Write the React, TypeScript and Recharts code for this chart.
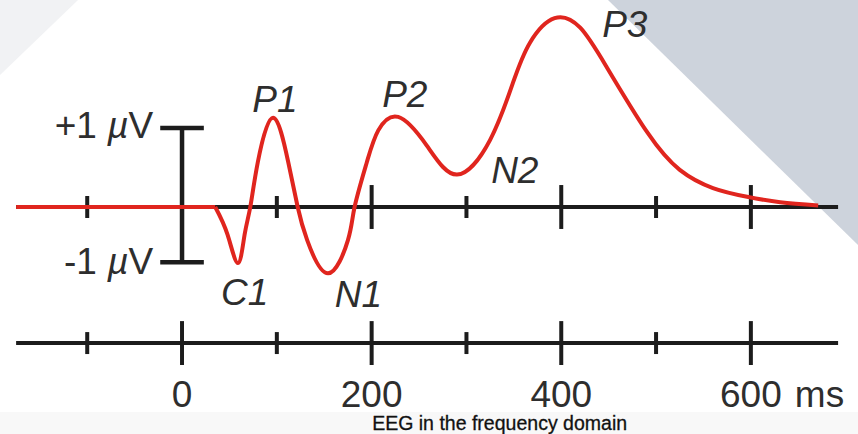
import React from 'react';
import { ComposedChart, Line, XAxis, YAxis, ReferenceLine, ReferenceDot } from 'recharts';

// ERP waveform: time (ms) vs amplitude (µV, positive up)
const baselineTimes = [-175, 35];
const baselineVolts = [0, 0];
const times = [35, 48, 59, 66, 72, 80, 96, 112, 122, 132, 154, 175, 182, 195, 207, 228, 258, 290, 325, 349, 367, 393, 420, 448, 491, 525, 560, 596, 631, 671];
const microvolts = [0, -0.35, -0.71, -0.35, 0, 0.57, 1.13, 0.57, 0, -0.42, -0.84, -0.42, 0, 0.57, 0.97, 1.14, 0.78, 0.41, 0.85, 1.57, 2.08, 2.39, 2.27, 1.77, 0.94, 0.47, 0.24, 0.13, 0.06, 0.02];

// component labels and their anchor points (ms, µV)
const componentNames = ['C1', 'P1', 'N1', 'P2', 'N2', 'P3'];
const componentLabelTimes = [66, 98, 186, 235, 351, 467];
const componentLabelVolts = [-1.24, 1.2, -1.27, 1.27, 0.3, 2.15];

const minorTicks = [-100, 100, 300, 500];
const majorTicksTop = [200, 400, 600];
const majorTicksBottom = [0, 200, 400, 600];
const tickLabels = ['0', '200', '400', '600'];
const timeUnit = 'ms';

const scaleBarTop = 1;
const scaleBarBottom = -0.7;
const scaleValues = ['+1', '-1'];
const scaleUnitPrefix = 'µ';
const scaleUnit = 'V';

const axisStart = -175;
const axisEnd = 692;
const bottomAxisLevel = -1.722;
const caption = 'EEG in the frequency domain';
const captionTime = 335;
const captionLevel = -2.823;

const baselineData = baselineTimes.map((t, i) => ({ t, v: baselineVolts[i] }));
const waveData = times.map((t, i) => ({ t, v: microvolts[i] }));

const W = 858;
const H = 434;
const FONT = '"Liberation Sans", Arial, Helvetica, sans-serif';
const INK = '#1c1c1c';
const TEXT = '#2e2e2e';
const RED = '#e0251e';
const AXIS_W = 4;
const MINOR = 0.139;
const MAJOR = 0.278;
const CAP = 23;

export default function App() {
  const seg = (x1: number, y1: number, x2: number, y2: number, key: string, w = AXIS_W) => (
    <ReferenceLine
      key={key}
      segment={[{ x: x1, y: y1 }, { x: x2, y: y2 }]}
      stroke={INK}
      strokeWidth={w}
      ifOverflow="visible"
    />
  );

  const textDot = (x: number, y: number, key: string, render: (cx: number, cy: number) => React.ReactElement) => (
    <ReferenceDot
      key={key}
      x={x}
      y={y}
      r={0}
      ifOverflow="visible"
      shape={(p: any) => render(p.cx, p.cy)}
    />
  );

  const scaleLabel = (value: string) => (cx: number, cy: number) => (
    <text x={cx - 7} y={cy} textAnchor="end" fontFamily={FONT} fontSize={37} fill={TEXT}>
      {value + ' '}
      <tspan fontStyle="italic">{scaleUnitPrefix}</tspan>
      {scaleUnit}
    </text>
  );

  return (
    <div style={{ position: 'absolute', left: 0, top: 0, width: W, height: H, background: '#ffffff' }}>
      <svg width={W} height={H} style={{ position: 'absolute', left: 0, top: 0 }}>
        <polygon points="0,0 78,0 0,75" fill="#f1f2f4" />
        <polygon points="608,0 858,0 858,245" fill="#cdd3dc" />
        <rect x={0} y={412} width={W} height={22} fill="#f8f8f8" />
      </svg>
      <div style={{ position: 'absolute', left: 0, top: 0 }}>
        <ComposedChart width={W} height={H} margin={{ top: 0, right: 0, bottom: 0, left: 0 }}>
          <XAxis dataKey="t" type="number" domain={[-192, 713]} allowDataOverflow hide />
          <YAxis type="number" domain={[-2.873, 2.62]} allowDataOverflow hide />

          {/* zero axis */}
          {seg(axisStart, 0, axisEnd, 0, 'zero-axis')}
          {minorTicks.map((t) => seg(t, -MINOR, t, MINOR, `tm-${t}`))}
          {majorTicksTop.map((t) => seg(t, -MAJOR, t, MAJOR, `tM-${t}`))}

          {/* bottom time axis */}
          {seg(axisStart, bottomAxisLevel, axisEnd, bottomAxisLevel, 'bottom-axis')}
          {minorTicks.map((t) => seg(t, bottomAxisLevel - MINOR, t, bottomAxisLevel + MINOR, `bm-${t}`))}
          {majorTicksBottom.map((t) => seg(t, bottomAxisLevel - MAJOR, t, bottomAxisLevel + MAJOR, `bM-${t}`))}

          {/* scale bar */}
          {seg(0, scaleBarBottom, 0, scaleBarTop, 'bar-v', 4.5)}
          {seg(-CAP, scaleBarTop, CAP, scaleBarTop, 'bar-top', 4.5)}
          {seg(-CAP, scaleBarBottom, CAP, scaleBarBottom, 'bar-bottom', 4.5)}

          <Line
            data={baselineData}
            dataKey="v"
            type="linear"
            stroke={RED}
            strokeWidth={4}
            dot={false}
            activeDot={false}
            isAnimationActive={false}
          />
          <Line
            data={waveData}
            dataKey="v"
            type="natural"
            stroke={RED}
            strokeWidth={4}
            dot={false}
            activeDot={false}
            isAnimationActive={false}
          />

          {textDot(-CAP, scaleBarTop, 'lbl-top', (cx, cy) => scaleLabel(scaleValues[0])(cx, cy + 10))}
          {textDot(-CAP, scaleBarBottom, 'lbl-bottom', (cx, cy) => scaleLabel(scaleValues[1])(cx, cy + 12))}

          {componentNames.map((name, i) =>
            textDot(componentLabelTimes[i], componentLabelVolts[i], `cmp-${name}`, (cx, cy) => (
              <text x={cx} y={cy} textAnchor="middle" fontFamily={FONT} fontStyle="italic" fontSize={37} fill={TEXT}>
                {name}
              </text>
            ))
          )}

          {majorTicksBottom.map((t, i) =>
            textDot(t, bottomAxisLevel, `tl-${t}`, (cx, cy) => (
              <g>
                <text x={cx} y={cy + 64} textAnchor="middle" fontFamily={FONT} fontSize={37} fill={TEXT}>
                  {tickLabels[i]}
                </text>
                {i === majorTicksBottom.length - 1 ? (
                  <text x={cx + 44} y={cy + 64} textAnchor="start" fontFamily={FONT} fontSize={37} fill={TEXT}>
                    {timeUnit}
                  </text>
                ) : null}
              </g>
            ))
          )}

          {textDot(captionTime, captionLevel, 'caption', (cx, cy) => (
            <text
              x={cx}
              y={cy}
              textAnchor="middle"
              fontFamily={FONT}
              fontSize={20}
              fill="#111111"
              stroke="#111111"
              strokeWidth={0.3}
              textLength={255}
              lengthAdjust="spacingAndGlyphs"
            >
              {caption}
            </text>
          ))}
        </ComposedChart>
      </div>
    </div>
  );
}
